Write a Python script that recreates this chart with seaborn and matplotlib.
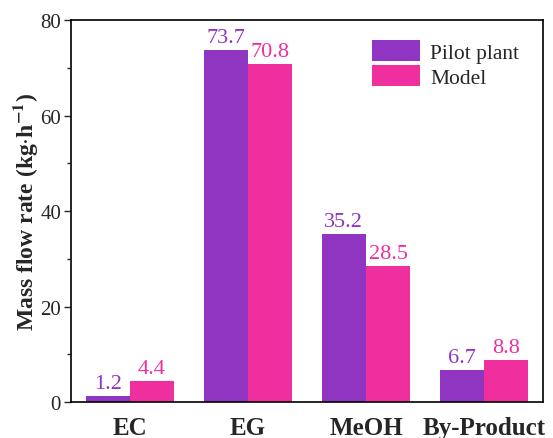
import matplotlib
matplotlib.use("Agg")
import matplotlib.pyplot as plt
import seaborn as sns
import pandas as pd
from matplotlib.ticker import MultipleLocator

categories = ["EC", "EG", "MeOH", "By-Product"]
pilot_plant = [1.2, 73.7, 35.2, 6.7]
model = [4.4, 70.8, 28.5, 8.8]
series_names = ["Pilot plant", "Model"]
colors = ["#9035C2", "#EF2F9D"]

df = pd.DataFrame({
    "category": categories * 2,
    "value": pilot_plant + model,
    "series": [series_names[0]] * len(categories) + [series_names[1]] * len(categories),
})

sns.set_style("ticks")
plt.rcParams["font.family"] = ["Liberation Serif", "DejaVu Serif"]
plt.rcParams["mathtext.fontset"] = "stix"

fig = plt.figure(figsize=(5.53, 4.39), dpi=100)
ax = fig.add_axes([0.128, 0.082, 0.854, 0.870])

sns.barplot(data=df, x="category", y="value", hue="series", order=categories,
            hue_order=series_names, palette=colors, width=0.75, saturation=1,
            linewidth=0, ax=ax)

for container, col in zip(ax.containers, colors):
    ax.bar_label(container, fmt="%.1f", color=col, fontsize=16, padding=2)

ax.set_xlim(-0.5, 3.5)
ax.set_ylim(0, 80)
ax.yaxis.set_major_locator(MultipleLocator(20))
ax.yaxis.set_minor_locator(MultipleLocator(10))
ax.tick_params(axis="y", which="major", length=5, width=1, labelsize=15,
               direction="out", pad=2)
ax.tick_params(axis="y", which="minor", length=3, width=1, direction="out")
ax.tick_params(axis="x", length=0, labelsize=18, pad=10)
for lab in ax.get_xticklabels():
    lab.set_fontweight("bold")
ax.set_xlabel("")
ax.set_ylabel(r"Mass flow rate (kg$\cdot$h$^{\mathbf{-1}}$)", fontsize=17,
              fontweight="bold", labelpad=0)
for sp in ax.spines.values():
    sp.set_visible(True)
    sp.set_linewidth(1.2)
    sp.set_color("black")

leg = ax.legend(loc="upper left", bbox_to_anchor=(0.62, 0.97), frameon=False,
                fontsize=15.5, handlelength=2.2, handleheight=1.1, handletextpad=0.5,
                labelspacing=0.12, borderaxespad=0)

fig.savefig("out.png", dpi=100)
